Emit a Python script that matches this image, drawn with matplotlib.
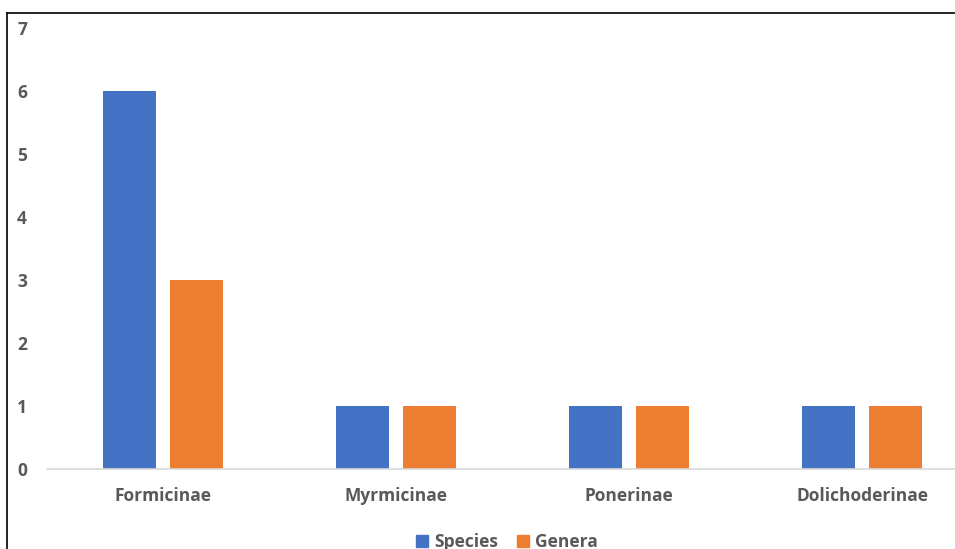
import numpy as np
import matplotlib.pyplot as plt
from matplotlib.lines import Line2D
from matplotlib.patches import Patch

subfamilies = ['Formicinae', 'Myrmicinae', 'Ponerinae', 'Dolichoderinae']
species = [6, 1, 1, 1]
genera = [3, 1, 1, 1]
yticks = [0, 1, 2, 3, 4, 5, 6, 7]

blue = '#4472C4'
orange = '#ED7D31'
grey = '#595959'

plt.rcParams['font.family'] = ['Open Sans', 'DejaVu Sans']

fig = plt.figure(figsize=(9.55, 5.49), dpi=100)
ax = fig.add_axes([0.0487, 0.1457, 0.976, 0.803])

x = np.arange(len(subfamilies))
w = 0.227
ax.bar(x - 0.144, species, w, color=blue, label='Species')
ax.bar(x + 0.144, genera, w, color=orange, label='Genera')

ax.set_xlim(-0.5, 3.5)
ax.set_ylim(0, 7)
ax.set_yticks(yticks)
ax.set_xticks(x)
ax.set_xticklabels(subfamilies)
for s in ['top', 'right', 'left']:
    ax.spines[s].set_visible(False)
ax.spines['bottom'].set_color('#D9D9D9')
ax.spines['bottom'].set_linewidth(1.2)
ax.tick_params(axis='both', length=0, labelsize=12.5, labelcolor=grey)
ax.tick_params(axis='x', pad=13)
ax.tick_params(axis='y', pad=14)
for lbl in ax.get_xticklabels() + ax.get_yticklabels():
    lbl.set_fontweight('bold')

handles = [Patch(color=blue, label='Species'), Patch(color=orange, label='Genera')]
fig.legend(handles=handles, loc='center', bbox_to_anchor=(507 / 955, 1 - 542 / 549),
           ncol=2, frameon=False, handlelength=0.7, handleheight=0.7,
           handletextpad=0.35, columnspacing=1.1,
           prop={'size': 12.5, 'weight': 'bold'}, labelcolor=grey)

# outer chart border (top and left visible)
fig.add_artist(Line2D([7 / 955, 1], [1 - 13 / 549, 1 - 13 / 549], color='black', lw=1.2,
                      transform=fig.transFigure))
fig.add_artist(Line2D([7 / 955, 7 / 955], [0, 1 - 13 / 549], color='black', lw=1.2,
                      transform=fig.transFigure))

fig.savefig('out.png', dpi=100)
